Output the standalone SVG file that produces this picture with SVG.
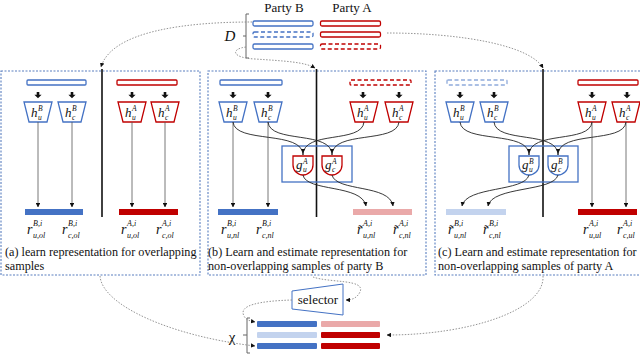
<svg xmlns="http://www.w3.org/2000/svg" width="640" height="354" viewBox="0 0 640 354">
<style>
.bb{fill:#fff;stroke:#4472c4;stroke-width:1.3}
.rb{fill:#fff;stroke:#c00000;stroke-width:1.3}
.lb{fill:#fff;stroke:#8eaadb;stroke-width:1.3}
.dash{stroke-dasharray:4 2.5}
.panel{fill:none;stroke:#5a7fc0;stroke-width:1.1;stroke-dasharray:2 1.5}
.div{stroke:#111;stroke-width:1.6}
.thin{stroke:#555;stroke-width:0.8;fill:none;marker-end:url(#ah)}
.cv{stroke:#222;stroke-width:0.9;fill:none;marker-end:url(#ah)}
.cvn{stroke:#222;stroke-width:0.9;fill:none}
.dot{stroke:#888;stroke-width:0.9;fill:none;stroke-dasharray:1.5 1.5;marker-end:url(#ah)}
.brk{stroke:#666;stroke-width:1;fill:none}
.m{font-family:"Liberation Serif",serif;font-style:italic;fill:#111}
.r{font-size:14px}
.s{font-size:8px}
.h{font-size:13px}
.hs{font-size:7.5px}
.cap{font-family:"Liberation Serif",serif;font-size:12.2px;fill:#111}
.t{font-family:"Liberation Serif",serif;font-size:13px;fill:#111}
.sb{fill:#4472c4}
.sr{fill:#c00000}
.sp{fill:#eaa9a9}
.sl{fill:#c3d3ee}
</style>
<defs>
<marker id="ah" viewBox="0 0 6 6" refX="5.5" refY="3" markerWidth="4.5" markerHeight="4.5" markerUnits="userSpaceOnUse" orient="auto"><path d="M0,0 L6,3 L0,6 Z" fill="#111"/></marker>
<path id="da" d="M-1.3,0 H1.3 V2.8 H3.6 L0,6.3 L-3.6,2.8 H-1.3 Z" fill="#111"/>
<path id="tz" d="M-14,0 H14 L9,20 H-9 Z"/>
<path id="gs" d="M-10,0 H10 V9 A10,10 0 0 1 -10,9 Z"/>
</defs>

<g id="data-D">
<text class="t" x="284" y="12" text-anchor="middle">Party B</text>
<text class="t" x="352" y="12" text-anchor="middle">Party A</text>
<rect class="bb" x="253" y="21" width="60" height="5" rx="1.5"/>
<rect class="bb dash" x="253" y="32" width="60" height="5" rx="1.5"/>
<rect class="bb" x="253" y="44" width="60" height="5" rx="1.5"/>
<rect class="rb" x="320.5" y="21" width="60" height="5" rx="1.5"/>
<rect class="rb" x="320.5" y="32" width="60" height="5" rx="1.5"/>
<rect class="rb dash" x="320.5" y="44" width="60" height="5" rx="1.5"/>
<path class="brk" d="M249,14 H246 V58 H249 M246,36 H243"/>
<text class="m" x="230" y="41" font-size="15" text-anchor="middle">D</text>
</g>

<g id="panel-a">
<rect class="panel" x="1" y="71" width="199" height="204"/>
<line class="div" x1="102" y1="69" x2="102" y2="217"/>
<rect class="bb" x="27" y="80" width="59" height="5" rx="1"/>
<rect class="rb" x="117" y="80" width="60" height="5" rx="1"/>
<use href="#da" x="38" y="92"/><use href="#da" x="72" y="92"/><use href="#da" x="132" y="92"/><use href="#da" x="165" y="92"/>
<use href="#tz" class="bb" x="38" y="102"/><use href="#tz" class="bb" x="72" y="102"/>
<use href="#tz" class="rb" x="132" y="102"/><use href="#tz" class="rb" x="165" y="102"/>
<text class="m h" x="31" y="117">h</text><text class="m hs" x="38" y="111">B</text><text class="m hs" x="38" y="120">u</text>
<text class="m h" x="65" y="117">h</text><text class="m hs" x="72" y="111">B</text><text class="m hs" x="72" y="120">c</text>
<text class="m h" x="125" y="117">h</text><text class="m hs" x="132" y="111">A</text><text class="m hs" x="132" y="120">u</text>
<text class="m h" x="158" y="117">h</text><text class="m hs" x="165" y="111">A</text><text class="m hs" x="165" y="120">c</text>
<line class="thin" x1="38" y1="122" x2="38" y2="207"/>
<line class="thin" x1="72" y1="122" x2="72" y2="207"/>
<line class="thin" x1="132" y1="122" x2="132" y2="207"/>
<line class="thin" x1="165" y1="122" x2="165" y2="207"/>
<rect class="sb" x="25" y="209" width="58" height="6"/>
<rect class="sr" x="119" y="209" width="59" height="6"/>
<text class="m r" x="27" y="234">r</text><text class="m s" x="33" y="226">B,i</text><text class="m s" x="33" y="238">u,ol</text>
<text class="m r" x="62" y="234">r</text><text class="m s" x="68" y="226">B,i</text><text class="m s" x="68" y="238">c,ol</text>
<text class="m r" x="121" y="234">r</text><text class="m s" x="127" y="226">A,i</text><text class="m s" x="127" y="238">u,ol</text>
<text class="m r" x="156" y="234">r</text><text class="m s" x="162" y="226">A,i</text><text class="m s" x="162" y="238">c,ol</text>
<text class="cap" x="5" y="256">(a) learn representation for overlapping</text>
<text class="cap" x="5" y="270">samples</text>
</g>

<g id="panel-b">
<rect class="panel" x="208" y="71" width="218" height="204"/>
<line class="div" x1="316.5" y1="69" x2="316.5" y2="217"/>
<rect class="bb" x="220" y="80" width="62" height="5" rx="1"/>
<rect class="rb dash" x="350" y="80" width="61" height="5" rx="1"/>
<use href="#da" x="233" y="92"/><use href="#da" x="268" y="92"/><use href="#da" x="363" y="92"/><use href="#da" x="399" y="92"/>
<use href="#tz" class="bb" x="233" y="102"/><use href="#tz" class="bb" x="268" y="102"/>
<use href="#tz" class="rb" x="364" y="102"/><use href="#tz" class="rb" x="399" y="102"/>
<text class="m h" x="226" y="117">h</text><text class="m hs" x="233" y="111">B</text><text class="m hs" x="233" y="120">u</text>
<text class="m h" x="261" y="117">h</text><text class="m hs" x="268" y="111">B</text><text class="m hs" x="268" y="120">c</text>
<text class="m h" x="357" y="117">h</text><text class="m hs" x="364" y="111">A</text><text class="m hs" x="364" y="120">u</text>
<text class="m h" x="392" y="117">h</text><text class="m hs" x="399" y="111">A</text><text class="m hs" x="399" y="120">c</text>
<rect x="282" y="146" width="70" height="36" fill="none" stroke="#4472c4" stroke-width="1.3"/>
<use href="#gs" class="rb" x="303" y="156"/><use href="#gs" class="rb" x="332" y="156"/>
<text class="m h" x="296" y="169">g</text><text class="m hs" x="303" y="164">A</text><text class="m hs" x="303" y="172">u</text>
<text class="m h" x="325" y="169">g</text><text class="m hs" x="332" y="164">A</text><text class="m hs" x="332" y="172">c</text>
<line class="thin" x1="233" y1="122" x2="233" y2="207"/>
<line class="thin" x1="268" y1="122" x2="268" y2="207"/>
<rect class="sb" x="218" y="209" width="60" height="6"/>
<rect class="sp" x="353" y="209" width="59" height="6"/>
<text class="m r" x="221" y="234">r</text><text class="m s" x="227" y="226">B,i</text><text class="m s" x="227" y="238">u,nl</text>
<text class="m r" x="256" y="234">r</text><text class="m s" x="262" y="226">B,i</text><text class="m s" x="262" y="238">c,nl</text>
<text class="m r" x="357" y="234">r</text><text class="m" x="357.5" y="234" font-size="13">˜</text><text class="m s" x="363" y="226">A,i</text><text class="m s" x="363" y="238">u,nl</text>
<text class="m r" x="393" y="234">r</text><text class="m" x="393.5" y="234" font-size="13">˜</text><text class="m s" x="399" y="226">A,i</text><text class="m s" x="399" y="238">c,nl</text>
<text class="cap" x="208" y="256">(b) Learn and estimate representation for</text>
<text class="cap" x="208" y="270">non-overlapping samples of party B</text>
</g>

<g id="panel-c">
<rect class="panel" x="435" y="71" width="210" height="204"/>
<line class="div" x1="543" y1="69" x2="543" y2="217"/>
<rect class="lb dash" x="447" y="80" width="60" height="5" rx="1"/>
<rect class="rb" x="578" y="80" width="60" height="5" rx="1"/>
<use href="#da" x="460" y="92"/><use href="#da" x="494" y="92"/><use href="#da" x="592" y="92"/><use href="#da" x="627" y="92"/>
<use href="#tz" class="bb" x="460" y="102"/><use href="#tz" class="bb" x="494" y="102"/>
<use href="#tz" class="rb" x="592" y="102"/><use href="#tz" class="rb" x="626" y="102"/>
<text class="m h" x="453" y="117">h</text><text class="m hs" x="460" y="111">B</text><text class="m hs" x="460" y="120">u</text>
<text class="m h" x="487" y="117">h</text><text class="m hs" x="494" y="111">B</text><text class="m hs" x="494" y="120">c</text>
<text class="m h" x="585" y="117">h</text><text class="m hs" x="592" y="111">A</text><text class="m hs" x="592" y="120">u</text>
<text class="m h" x="619" y="117">h</text><text class="m hs" x="626" y="111">A</text><text class="m hs" x="626" y="120">c</text>
<rect x="509" y="146" width="69" height="36" fill="none" stroke="#4472c4" stroke-width="1.3"/>
<use href="#gs" class="bb" x="529" y="156"/><use href="#gs" class="bb" x="558" y="156"/>
<text class="m h" x="522" y="169">g</text><text class="m hs" x="529" y="164">B</text><text class="m hs" x="529" y="172">u</text>
<text class="m h" x="551" y="169">g</text><text class="m hs" x="558" y="164">B</text><text class="m hs" x="558" y="172">c</text>
<line class="thin" x1="592" y1="122" x2="592" y2="207"/>
<line class="thin" x1="626" y1="122" x2="626" y2="207"/>
<rect class="sl" x="446" y="209" width="60" height="6"/>
<rect class="sr" x="578" y="209" width="59" height="6"/>
<text class="m r" x="448" y="234">r</text><text class="m" x="448.5" y="234" font-size="13">˜</text><text class="m s" x="454" y="226">B,i</text><text class="m s" x="454" y="238">u,nl</text>
<text class="m r" x="483" y="234">r</text><text class="m" x="483.5" y="234" font-size="13">˜</text><text class="m s" x="489" y="226">B,i</text><text class="m s" x="489" y="238">c,nl</text>
<text class="m r" x="583" y="234">r</text><text class="m s" x="589" y="226">A,i</text><text class="m s" x="589" y="238">u,ul</text>
<text class="m r" x="617" y="234">r</text><text class="m s" x="623" y="226">A,i</text><text class="m s" x="623" y="238">c,ul</text>
<text class="cap" x="438" y="256">(c) Learn and estimate representation for</text>
<text class="cap" x="438" y="270">non-overlapping samples of party A</text>
</g>

<g id="selector">
<path d="M292,291 L343,284 L343,315 L292,309 Z" fill="#fff" stroke="#4472c4" stroke-width="1"/>
<text class="t" x="318" y="304" text-anchor="middle" font-size="12.5">selector</text>
</g>

<g id="chi">
<rect class="sb" x="257" y="321" width="60" height="6" rx="1"/>
<rect class="sp" x="321" y="321" width="59" height="6" rx="1"/>
<rect class="sl" x="257" y="332" width="60" height="6" rx="1"/>
<rect class="sr" x="321" y="332" width="59" height="6" rx="1"/>
<rect class="sb" x="257" y="343" width="60" height="6" rx="1"/>
<rect class="sr" x="321" y="343" width="59" height="6" rx="1"/>
<path class="brk" d="M250,318 H247 V353 H250 M247,335 H243"/>
<text x="232" y="342" font-family="Liberation Serif, serif" font-size="15" text-anchor="middle" fill="#111">χ</text>
</g>

<g id="connectors">
<path class="dot" d="M252,22 C190,22 112,30 101,67"/>
<path class="dot" d="M246,47 C230,49 232,58 255,59 C285,61 305,62 315,68"/>
<path class="dot" d="M387,33 C460,33 530,45 543,68"/>
<path class="cvn" d="M233,122 C235,144 303,130 303,155"/>
<path class="cvn" d="M268,122 C270,144 332,130 332,155"/>
<path class="cvn" d="M364,122 C362,144 303,130 303,155"/>
<path class="cvn" d="M399,122 C397,144 332,130 332,155"/>
<path class="cv" d="M303,175 C306,192 362,184 366,206"/>
<path class="cv" d="M332,175 C336,192 390,184 393,206"/>
<path class="cvn" d="M460,122 C462,144 529,130 529,155"/>
<path class="cvn" d="M494,122 C496,144 558,130 558,155"/>
<path class="cvn" d="M592,122 C590,144 529,130 529,155"/>
<path class="cvn" d="M626,122 C624,144 558,130 558,155"/>
<path class="cv" d="M529,175 C525,192 466,186 462,206"/>
<path class="cv" d="M558,175 C554,192 492,186 488,206"/>
<path d="M303,153 l-2.2,-4 h4.4 z M332,153 l-2.2,-4 h4.4 z M529,153 l-2.2,-4 h4.4 z M558,153 l-2.2,-4 h4.4 z" fill="#111"/>
<path class="dot" d="M313,277 C330,283 366,279 360,292 C357,298 352,300 346,300"/>
<path class="dot" d="M292,300 C260,301 238,305 244,316 C246,320 250,321 255,322"/>
<path class="dot" d="M100,276 C102,305 170,336 255,346"/>
<path class="dot" d="M543,276 C545,310 470,335 387,335"/>
</g>
</svg>
